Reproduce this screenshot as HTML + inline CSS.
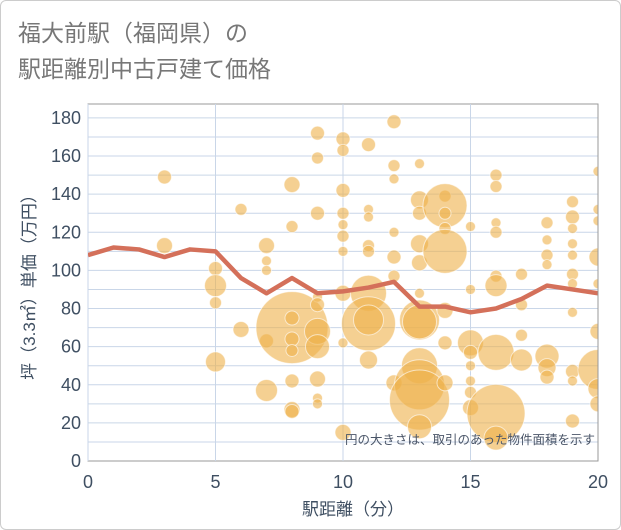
<!DOCTYPE html>
<html><head><meta charset="utf-8"><style>
body{margin:0;background:#fff;font-family:"Liberation Sans","Noto Sans CJK JP",sans-serif}
#wrap{position:relative;width:619px;height:528px;border:1px solid #ccc;border-radius:6px;overflow:hidden}
</style></head><body>
<div id="wrap">
<svg id="chart" width="621" height="530"></svg>
</div>
<script>
const lineX=[0,1,2,3,4,5,6,7,8,9,10,11,12,13,14,15,16,17,18,19,20];
const lineY=[108,112,111,107,111,110,96,88,96,88,89,91,94,81,81,78,80,85,92,90,88];
const bubbleX=[3,3,5,5,5,5,6,6,7,7,7,7,7,8,8,8,8,8,8,8,8,8,9,9,9,9,9,9,9,9,9,9,10,10,10,10,10,10,10,10,10,10,11,11,11,11,11,11,11,11,11,12,12,12,12,12,12,12,13,13,13,13,13,13,13,13,13,13,13,13,14,14,14,14,14,14,14,14,15,15,15,15,15,15,15,15,16,16,16,16,16,16,16,16,16,17,17,17,17,18,18,18,18,18,18,18,19,19,19,19,19,19,19,19,19,19,19,20,20,20,20,20,20,20,20,20];
const bubbleY=[149,113,101,92,83,52,132,69,113,105,100,63,37,145,123,70,75,64,58,42,27,26,172,159,130,86,82,68,60,43,33,30,169,163,142,130,124,118,110,88,62,15,166,132,128,113,110,88,72,74,53,178,155,148,120,107,97,41,156,137,130,114,104,88,74,73,50,40,32,18,139,134,130,122,110,79,62,41,123,90,62,57,50,42,36,28,150,144,125,120,97,92,57,25,12,98,82,66,53,125,116,108,103,55,49,44,136,128,122,114,108,98,93,78,47,42,21,152,132,126,107,93,68,48,38,30];
const bubbleSize=[7,8,7,11,6,10,6,8,8,5,5,7,11,8,6,36,7,7,6,7,8,7,7,6,7,5,7,13,12,8,5,5,7,6,7,6,5,6,5,8,5,8,7,5,5,6,6,18,27,15,9,7,6,5,5,7,6,8,5,9,7,9,8,5,20,17,18,25,30,12,6,22,6,6,22,8,7,8,5,5,13,7,5,5,6,8,6,6,5,6,6,11,18,29,12,6,6,6,11,6,5,6,5,12,9,7,6,7,5,5,5,6,5,5,7,5,7,5,5,5,9,5,8,20,10,8];
const xTicks=[0,5,10,15,20];
const yTicks=[0,20,40,60,80,100,120,140,160,180];
const NS="http://www.w3.org/2000/svg";
const svg=document.getElementById('chart');
const L=87,R=597,T=103,B=460;
const xs=v=>L+(v/20)*(R-L);
const ys=v=>B-v*1.906;
function mk(t,a,p){const e=document.createElementNS(NS,t);for(const k in a)e.setAttribute(k,a[k]);(p||svg).appendChild(e);return e;}
const defs=mk('defs',{});
const cp=mk('clipPath',{id:'clip'},defs);
mk('rect',{x:L,y:T,width:R-L,height:B-T},cp);
const plot=mk('rect',{x:L,y:T,width:R-L,height:B-T,fill:'#fff',stroke:'#999','stroke-width':1});


for(let v=10;v<=180;v+=10){const g=mk('line',{x1:L,x2:R,y1:ys(v),y2:ys(v),stroke:'#c9d6e8','stroke-width':1});

}
xTicks.forEach(v=>{const g=mk('line',{x1:xs(v),x2:xs(v),y1:T,y2:B,stroke:'#c9d6e8','stroke-width':1});


const t=mk('text',{x:xs(v),y:487,'text-anchor':'middle','font-size':18,fill:'#3f4f62'});t.textContent=v;

});
yTicks.forEach(v=>{const t=mk('text',{x:80,y:ys(v)+6,'text-anchor':'end','font-size':18,fill:'#3f4f62'});t.textContent=v;

});
const grp=mk('g',{'clip-path':'url(#clip)'});


bubbleX.forEach((x,i)=>{const c=mk('circle',{cx:xs(x),cy:ys(bubbleY[i]),r:bubbleSize[i],fill:'#efb04a','fill-opacity':0.6,stroke:'#fff','stroke-opacity':0.6,'stroke-width':1},grp);

});
const pl=mk('polyline',{points:lineX.map((x,i)=>xs(x)+','+ys(lineY[i])).join(' '),fill:'none',stroke:'#d4705a','stroke-width':4.5,'stroke-linejoin':'round','clip-path':'url(#clip)'});


mk('line',{x1:R,x2:R,y1:T,y2:B,stroke:'#999'});
const note=mk('text',{x:594,y:443,'text-anchor':'end','font-size':12.5,fill:'#4a5568'});note.textContent='円の大きさは、取引のあった物件面積を示す';


const xt=mk('text',{x:352,y:514,'text-anchor':'middle','font-size':17,fill:'#3f4f62'});xt.textContent='駅距離（分）';


const yt=mk('text',{x:0,y:0,'text-anchor':'middle','font-size':17,fill:'#3f4f62',transform:'translate(34,282) rotate(-90)'});yt.textContent='坪（3.3㎡）単価（万円）';


['福大前駅（福岡県）の','駅距離別中古戸建て価格'].forEach((s,i)=>{const t=mk('text',{x:17,y:40+i*36,'font-size':23,fill:'#777'});t.textContent=s;

});
</script>
</body></html>
